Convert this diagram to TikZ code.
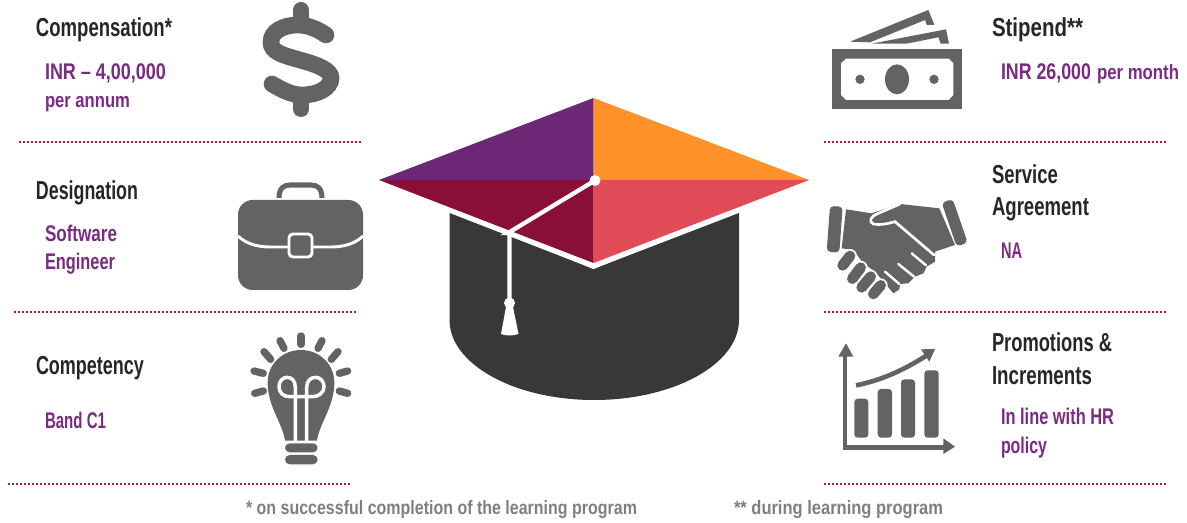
\documentclass[tikz,border=0pt]{standalone}
\usepackage{fontspec}
\usepackage{graphicx}
\setmainfont{Liberation Sans}
\newcommand\fw[2]{\resizebox{\dimexpr#1pt*3/4\relax}{\height}{#2}}
\definecolor{inkdark}{HTML}{262626}
\definecolor{inkpurple}{HTML}{7A2B82}
\definecolor{inkgrey}{HTML}{7F7F7F}
\definecolor{icongrey}{HTML}{636363}
\definecolor{dotred}{HTML}{B5173F}
\definecolor{capdark}{HTML}{383838}
\tikzset{
  x=0.75pt,y=-0.75pt,
  lbl/.style={anchor=base west,inner sep=0pt,outer sep=0pt},
  hd/.style={lbl,text=inkdark,font=\fontsize{19.5}{20}\bfseries\selectfont},
  pp/.style={lbl,text=inkpurple,font=\fontsize{17}{18}\bfseries\selectfont},
  ps/.style={lbl,text=inkpurple,font=\fontsize{15.5}{16}\bfseries\selectfont},
  fnote/.style={lbl,text=inkgrey,font=\fontsize{14.5}{15}\bfseries\selectfont},
  sep/.style={draw=dotred,line width=2pt,dash pattern=on 1.6pt off 1.4pt},
  ic/.style={fill=icongrey,draw=none},
  icl/.style={draw=icongrey,line cap=round},
  wl/.style={draw=white,line cap=round},
}
\begin{document}
\begin{tikzpicture}
\useasboundingbox (0,0) rectangle (1187,523);
\fill[white] (0,0) rectangle (1187,523);
% separators
\coordinate (l1a) at (19,142); \coordinate (l1b) at (362,142);
\coordinate (l2a) at (14,312); \coordinate (l2b) at (357,312);
\coordinate (l3a) at (8,484);  \coordinate (l3b) at (350,484);
\coordinate (r1a) at (824,142); \coordinate (r1b) at (1166,142);
\coordinate (r2a) at (824,312); \coordinate (r2b) at (1166,312);
\coordinate (r3a) at (824,484); \coordinate (r3b) at (1166,484);
\draw[sep] (l1a) -- (l1b); \draw[sep] (l2a) -- (l2b); \draw[sep] (l3a) -- (l3b);
\draw[sep] (r1a) -- (r1b); \draw[sep] (r2a) -- (r2b); \draw[sep] (r3a) -- (r3b);
% cap
\fill[capdark] (449.5,213) -- (593.5,269) -- (739,213) -- (739,320)
  .. controls (739,364) and (674,400) .. (594,400)
  .. controls (514,400) and (449.5,364) .. (449.5,320) -- cycle;
\coordinate (ct) at (593.5,98); \coordinate (cl) at (379,180);
\coordinate (cr) at (809,180); \coordinate (cb) at (593.5,263);
\coordinate (cc) at (593.5,180);
\fill[fill=white] (379,180) -- (593.5,269) -- (809,180) -- (593.5,263) -- cycle;
\fill[color={rgb,255:red,109;green,39;blue,119}] (cl) -- (ct) -- (cc) -- cycle;
\fill[color={rgb,255:red,255;green,146;blue,43}] (ct) -- (cr) -- (cc) -- cycle;
\fill[color={rgb,255:red,137;green,14;blue,56}] (cl) -- (cc) -- (cb) -- cycle;
\fill[color={rgb,255:red,225;green,75;blue,88}] (cc) -- (cr) -- (cb) -- cycle;
\coordinate (knot) at (595,180.5); \coordinate (edge) at (508,233); \coordinate (bead) at (509.5,303);
\draw[white,line width=3.2pt] (knot) -- (edge) -- (509.5,233) -- (bead);
\fill[white] (knot) circle[radius=5.5];
\fill[white] (bead) circle[radius=5.5];
\fill[white] (506,307) -- (513,307) -- (518.5,334) .. controls (513,336) and (506,336) .. (501,334) -- cycle;
% dollar
\draw[icl,line width=12.5pt] (326,35) .. controls (316,28) and (306,25) .. (298,25)
  .. controls (282,25) and (271,32) .. (271,42) .. controls (271,52) and (282,55) .. (300,60)
  .. controls (318,65) and (331,70) .. (331,78) .. controls (331,88) and (318,95) .. (302,95)
  .. controls (292,95) and (282,90) .. (272,84);
\draw[icl,line width=12pt] (301,10) -- (301,24);
\draw[icl,line width=12pt] (301,96) -- (301,109);
% briefcase
\draw[draw=icongrey,line width=3.8pt] (279,198) .. controls (279,188) and (284,185) .. (290,185)
  -- (311,185) .. controls (317,185) and (322,188) .. (322,198);
\fill[ic,rounded corners=11pt] (238,200) rectangle (363,290);
\draw[draw=white,line width=2.2pt] (238,236) .. controls (246,244) and (258,247) .. (270,247) -- (331,247)
  .. controls (343,247) and (355,244) .. (363,236);
\draw[draw=white,fill=icongrey,line width=2.2pt,rounded corners=3pt] (289,234) rectangle (312,257);
% lightbulb
\begin{scope}[shift={(0,310)},scale=1/3]
\foreach \a/\b/\c/\d in {903/78/903/103,840/92/852/115,966/92/954/115,792/125/812/148,1014/125/994/148,762/183/790/190,1043/183/1018/190,764/250/790/243,1043/250/1018/243}
  \draw[icl,line width=5.5pt] (\a,\b) -- (\c,\d);
\fill[ic] (855,392) .. controls (848,340) and (803,290) .. (803,218)
  .. controls (803,160) and (850,120) .. (903,120)
  .. controls (956,120) and (1003,160) .. (1003,218)
  .. controls (1003,290) and (958,340) .. (951,392) -- cycle;
\draw[wl,line width=2.6pt] (886,392) -- (886,232) .. controls (886,212) and (875,202) .. (861,202)
  .. controls (847,202) and (837,215) .. (837,230) .. controls (837,248) and (850,260) .. (868,260) -- (938,260)
  .. controls (956,260) and (972,248) .. (972,230) .. controls (972,215) and (962,202) .. (947,202)
  .. controls (933,202) and (920,212) .. (920,232) -- (920,392);
\fill[ic,rounded corners=3.5pt] (855,400) rectangle (953,427);
\fill[ic,rounded corners=3.5pt] (855,435) rectangle (953,463);
\end{scope}
% money
\begin{scope}[shift={(820,0)},scale=1/3]
\fill[ic] (90,125) -- (325,30) -- (343,75) -- (320,75) -- (315,60) -- (150,127) -- cycle;
\fill[ic] (155,131) -- (378,88) -- (387,131) -- (362,131) -- (355,112) -- (260,131) -- cycle;
\fill[ic] (36,148) rectangle (427,327);
\fill[white] (78,176) -- (386,176) -- (400,190) -- (400,285) -- (386,300) -- (78,300) -- (63,285) -- (63,190) -- cycle;
\fill[ic] (231,238) ellipse[x radius=36,y radius=45];
\fill[ic] (120,238) circle[radius=14];
\fill[ic] (342,238) circle[radius=14];
\end{scope}
% handshake
\begin{scope}[shift={(820,0)},scale=1/3]
\fill[ic,rounded corners=3pt] (30,618) -- (68,620) -- (58,758) -- (20,755) -- cycle;
\fill[ic,rounded corners=3pt] (365,608) -- (398,597) -- (443,728) -- (410,740) -- cycle;
\fill[ic] (78,628) -- (155,640) -- (240,612) -- (358,625) -- (405,735) -- (345,755) -- (345,785)
  -- (320,800) -- (310,820) -- (285,830) -- (265,850) -- (240,852) -- (238,868) -- (220,880)
  -- (195,850) -- (165,815) -- (130,790) -- (100,750) -- (65,745) -- cycle;
\draw[wl,line width=2pt] (240,612) -- (175,640) .. controls (150,650) and (145,665) .. (160,672)
  .. controls (180,676) and (200,672) .. (225,665) -- (342,765);
\draw[wl,line width=1.8pt] (275,760) -- (318,796);
\draw[wl,line width=1.8pt] (235,792) -- (282,830);
\draw[wl,line width=1.8pt] (195,815) -- (238,852);
\draw[draw=white,line width=10.5pt,line cap=round] (68,796) -- (90,768);
\draw[draw=white,line width=10.5pt,line cap=round] (97,836) -- (122,803);
\draw[draw=white,line width=10.5pt,line cap=round] (125,862) -- (152,830);
\draw[draw=white,line width=10.5pt,line cap=round] (160,882) -- (182,856);
\draw[icl,line width=8pt] (68,796) -- (90,768);
\draw[icl,line width=8pt] (97,836) -- (122,803);
\draw[icl,line width=8pt] (125,862) -- (152,830);
\draw[icl,line width=8pt] (160,882) -- (182,856);
\end{scope}
% chart
\begin{scope}[shift={(820,310)},scale=1/3]
\draw[draw=icongrey,line width=3.6pt] (75,130) -- (75,412) -- (375,412);
\fill[ic] (55,140) -- (78,100) -- (100,140) -- cycle;
\fill[ic] (370,385) -- (405,410) -- (370,432) -- cycle;
\fill[ic,rounded corners=2.5pt] (103,266) rectangle (145,383);
\fill[ic,rounded corners=2.5pt] (173,237) rectangle (216,383);
\fill[ic,rounded corners=2.5pt] (243,208) rectangle (285,383);
\fill[ic,rounded corners=2.5pt] (313,181) rectangle (356,383);
\draw[draw=icongrey,line width=3.5pt] (108,226) .. controls (190,210) and (260,175) .. (322,135);
\fill[ic] (303,118) -- (345,117) -- (328,155) -- cycle;
\end{scope}
% texts
\node[hd] (comp) at (36,37) {\fw{136}{Compensation*}};
\node[pp] (inr) at (45,80) {\fw{121}{INR – 4,00,000}};
\node[ps] (pa) at (45,108) {\fw{85}{per annum}};
\node[hd] (des) at (36,200) {\fw{102}{Designation}};
\node[pp] (soft) at (45,242) {\fw{72}{Software}};
\node[pp] (eng) at (45,270) {\fw{70}{Engineer}};
\node[hd] (cmp) at (36,374) {\fw{108}{Competency}};
\node[pp] (band) at (45,428) {\fw{61}{Band C1}};
\node[hd] (sti) at (992,37) {\fw{91}{Stipend**}};
\node[pp] (inr2) at (1001,80) {\fw{90}{INR 26,000}};
\node[ps] (pm) at (1097,80) {\fw{82}{per month}};
\node[hd] (ser) at (992,184) {\fw{66}{Service}};
\node[hd] (agr) at (992,216) {\fw{97}{Agreement}};
\node[pp] (na) at (1001,259) {\fw{21}{NA}};
\node[hd] (pro) at (992,352) {\fw{120}{Promotions \&}};
\node[hd] (inc) at (992,384) {\fw{100}{Increments}};
\node[pp] (line) at (1001,424) {\fw{113}{In line with HR}};
\node[pp] (pol) at (1001,453) {\fw{46}{policy}};
\node[fnote] (f1) at (246,514) {\fw{391}{* on successful completion of the learning program}};
\node[fnote] (f2) at (734,514) {\fw{209}{** during learning program}};
\end{tikzpicture}
\end{document}
